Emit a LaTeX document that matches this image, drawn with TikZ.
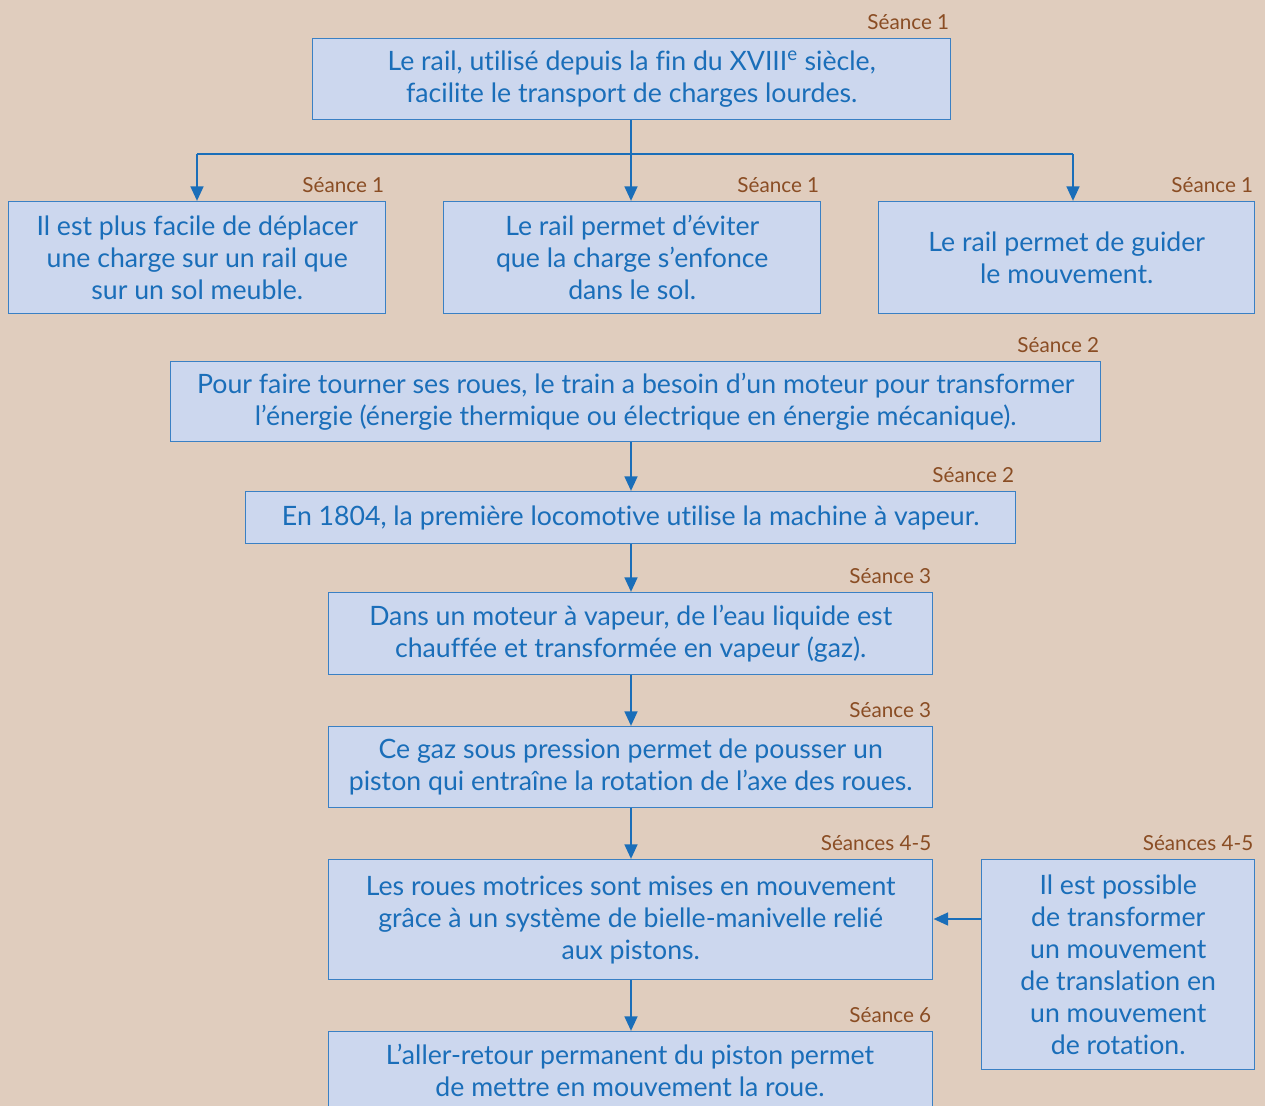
\documentclass[tikz,border=0pt]{standalone}
\usepackage{fontspec}
\setmainfont{Lato}[Ligatures=NoCommon]
\usetikzlibrary{arrows.meta}
\definecolor{bgtan}{HTML}{E0CDBE}
\definecolor{boxfill}{HTML}{CCD7EE}
\definecolor{boxline}{HTML}{3A80C4}
\definecolor{txtblue}{HTML}{1A6EB9}
\definecolor{arrblue}{HTML}{1A6EB9}
\definecolor{seancebrown}{HTML}{8A4D24}
\begin{document}
\begin{tikzpicture}[x=0.75pt,y=-0.75pt,
  box/.style={draw=boxline, line width=1.1pt, fill=boxfill, text=txtblue,
    align=center, anchor=north west, inner sep=0pt,
    font=\fontsize{20pt}{24pt}\selectfont},
  seance/.style={text=seancebrown, anchor=base east, inner sep=0pt,
    font=\fontsize{15.5pt}{18pt}\selectfont},
  arr/.style={draw=arrblue, line width=2pt, -{Triangle[length=11pt,width=9.5pt]}},
  ln/.style={draw=arrblue, line width=2pt}]
\useasboundingbox (0,0) rectangle (1265,1106);
\clip (0,0) rectangle (1265,1106);
\fill[bgtan] (0,0) rectangle (1265,1106);

% boxes
\node[box, minimum width=478.5pt, minimum height=60.75pt] (top) at (312,38)
  {Le rail, utilisé depuis la fin du XVIII\textsuperscript{e} siècle,\\facilite le transport de charges lourdes.};
\node[box, minimum width=282.75pt, minimum height=84pt] (a) at (8,201)
  {Il est plus facile de déplacer\\une charge sur un rail que\\sur un sol meuble.};
\node[box, minimum width=282.75pt, minimum height=84pt] (b) at (443,201)
  {Le rail permet d’éviter\\que la charge s’enfonce\\dans le sol.};
\node[box, minimum width=282pt, minimum height=84pt] (c) at (878,201)
  {Le rail permet de guider\\le mouvement.};
\node[box, minimum width=697.5pt, minimum height=60pt] (d) at (170,361)
  {Pour faire tourner ses roues, le train a besoin d’un moteur pour transformer\\l’énergie (énergie thermique ou électrique en énergie mécanique).};
\node[box, minimum width=577.5pt, minimum height=39pt] (e) at (245,491)
  {En 1804, la première locomotive utilise la machine à vapeur.};
\node[box, minimum width=453pt, minimum height=61.5pt] (f) at (328,592)
  {Dans un moteur à vapeur, de l’eau liquide est\\chauffée et transformée en vapeur (gaz).};
\node[box, minimum width=453pt, minimum height=60.75pt] (g) at (328,726)
  {Ce gaz sous pression permet de pousser un\\piston qui entraîne la rotation de l’axe des roues.};
\node[box, minimum width=453pt, minimum height=90pt] (h) at (328,859)
  {Les roues motrices sont mises en mouvement\\grâce à un système de bielle-manivelle relié\\aux pistons.};
\node[box, minimum width=204.75pt, minimum height=157.5pt] (i) at (981,859)
  {Il est possible\\de transformer\\un mouvement\\de translation en\\un mouvement\\de rotation.};
\node[box, minimum width=453pt, minimum height=66pt, anchor=north west] (j) at (328,1031)
  {\rule{0pt}{0pt}};
\node[text=txtblue, align=center, anchor=north, inner sep=0pt,
  font=\fontsize{20pt}{24pt}\selectfont] (jt) at (630,1044)
  {L’aller-retour permanent du piston permet\\de mettre en mouvement la roue.};

% labels
\foreach \n/\t in {top/Séance 1, a/Séance 1, b/Séance 1, c/Séance 1, d/Séance 2,
  e/Séance 2, f/Séance 3, g/Séance 3, h/Séances 4-5, i/Séances 4-5, j/Séance 6}
  \node[seance] (lab-\n) at ([xshift=-1.5pt,yshift=6.5pt]\n.north east) {\t};

% connectors
\coordinate (split) at (631,154);
\draw[ln] (top.south -| split) -- (split);
\draw[ln] (197,154) -- (1073,154);
\draw[arr] (197,154) -- (a.north -| 197,0);
\draw[arr] (split) -- (b.north -| split);
\draw[arr] (1073,154) -- (c.north -| 1073,0);
\draw[arr] (d.south -| split) -- (e.north -| split);
\draw[arr] (e.south -| split) -- (f.north -| split);
\draw[arr] (f.south -| split) -- (g.north -| split);
\draw[arr] (g.south -| split) -- (h.north -| split);
\draw[arr] (h.south -| split) -- (j.north -| split);
\draw[arr] (i.west |- 0,919) -- (h.east |- 0,919);
\end{tikzpicture}
\end{document}
